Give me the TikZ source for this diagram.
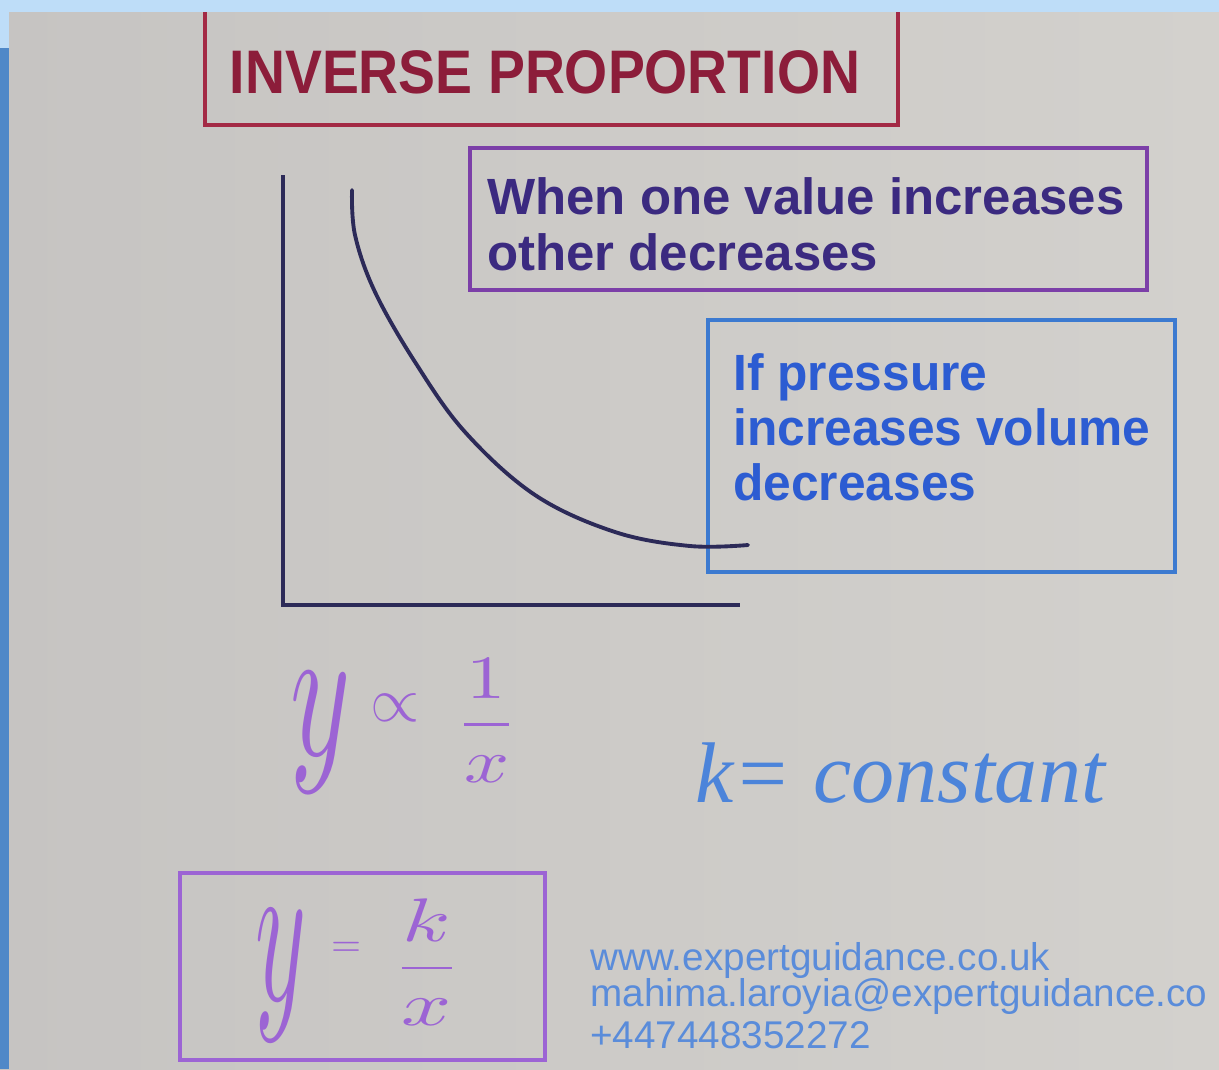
\documentclass[tikz,border=0pt]{standalone}
\usepackage{fontspec}
\usepackage{graphicx}
\setmainfont{Liberation Sans}
\usetikzlibrary{calc}
\definecolor{bggray}{HTML}{C6C4C2}
\definecolor{bglight}{HTML}{D3D1CD}
\definecolor{bandlight}{HTML}{BEDDF8}
\definecolor{banddark}{HTML}{4F88C8}
\definecolor{titlered}{HTML}{A32A45}
\definecolor{titletext}{HTML}{8C1D3A}
\definecolor{axiscol}{HTML}{2C2A58}
\definecolor{purpbox}{HTML}{7C3FA8}
\definecolor{purptext}{HTML}{3B2A80}
\definecolor{bluebox}{HTML}{3C7AD0}
\definecolor{bluetext}{HTML}{2C5CD2}
\definecolor{handpurp}{HTML}{9C64D4}
\definecolor{handblue}{HTML}{4C84DA}
\definecolor{foot}{HTML}{5A8CDA}
\tikzset{
  frame/.style={draw, line width=2.6pt, inner sep=0pt},
  boxtext/.style={font=\bfseries\fontsize{29}{33}\selectfont, anchor=base west, inner sep=0pt},
  axisline/.style={draw=axiscol, line width=2.4pt},
  hand/.style={inner sep=0pt},
  foottext/.style={font=\fontsize{22}{25}\selectfont, text=foot, anchor=base west, inner sep=0pt}
}
\begin{document}
\begin{tikzpicture}[x=0.02cm, y=-0.02cm]
\useasboundingbox (0,0) rectangle (1219,1069);
% background
\shade[left color=bggray, right color=bglight] (0,0) rectangle (1219,1069);
% title
\node[frame, draw=titlered, minimum width=693*0.02cm, minimum height=120*0.02cm] (titlebox) at (551.5,65) {};
\node[font=\bfseries\fontsize{35}{38}\selectfont, text=titletext, inner sep=0pt, xscale=0.9] (title) at (545,72) {INVERSE PROPORTION};
% purple box
\node[frame, draw=purpbox, minimum width=677*0.02cm, minimum height=142*0.02cm] (pbox) at (808.5,219) {};
\node[boxtext, text=purptext] (ptext1) at (487,214) {When one value increases};
\node[boxtext, text=purptext] (ptext2) at (487,270) {other decreases};
% blue box
\node[frame, draw=bluebox, minimum width=467*0.02cm, minimum height=252*0.02cm] (bbox) at (941.5,446) {};
\node[boxtext, text=bluetext, xscale=0.975] (btext1) at (733,390) {If pressure};
\node[boxtext, text=bluetext, xscale=0.975] (btext2) at (733,445) {increases volume};
\node[boxtext, text=bluetext, xscale=0.975] (btext3) at (733,500) {decreases};
% axes
\coordinate (ytop) at (283,175);
\coordinate (origin) at (283,605);
\coordinate (xend) at (740,605);
\draw[axisline] (ytop) -- (origin) -- (xend);
% curve
\coordinate (cstart) at (352,190);
\coordinate (cend) at (748,545);
\draw[axisline, line width=2.2pt, line cap=round] plot[smooth, tension=0.6] coordinates {(cstart) (355,235) (375,292) (415,362) (465,432) (535,495) (615,532) (690,546) (cend)};
% handwritten proportion
\node[hand, text=handpurp, anchor=base west] (prop) at (290,755) {\scalebox{6.5}[11]{$y$}\hspace{0.4cm}\raisebox{19pt}{\scalebox{3.6}{$\propto$}}\hspace{0.7cm}\raisebox{8.5pt}{\scalebox{4.5}[3.5]{$\displaystyle\frac{1}{x}$}}};
\node[hand, text=handblue, anchor=west] (konst) at (695,773) {\fontsize{49}{52}\selectfont\itshape\fontspec{Liberation Serif}k= constant};
% y = k/x box
\node[frame, draw=handpurp, line width=2.2pt, minimum width=365*0.02cm, minimum height=187*0.02cm] (kbox) at (362.5,966.5) {};
\node[hand, text=handpurp, anchor=base west] (kform) at (255,1000) {\scalebox{5.5}[12]{$y$}\hspace{0.5cm}\raisebox{25pt}{\scalebox{2.2}{$=$}}\hspace{0.6cm}\raisebox{9.6pt}{\scalebox{5}[3.5]{$\displaystyle\frac{k}{x}$}}};
% footer
\node[foottext] (f1) at (590,970) {www.expertguidance.co.uk};
\node[foottext] (f2) at (590,1006) {mahima.laroyia@expertguidance.co};
\node[foottext] (f3) at (590,1048) {+447448352272};
% screen frame bands
\fill[bandlight] (0,0) rectangle (1219,12);
\fill[bandlight] (0,0) rectangle (9,48);
\fill[banddark] (0,48) rectangle (9,1069);
\end{tikzpicture}
\end{document}
